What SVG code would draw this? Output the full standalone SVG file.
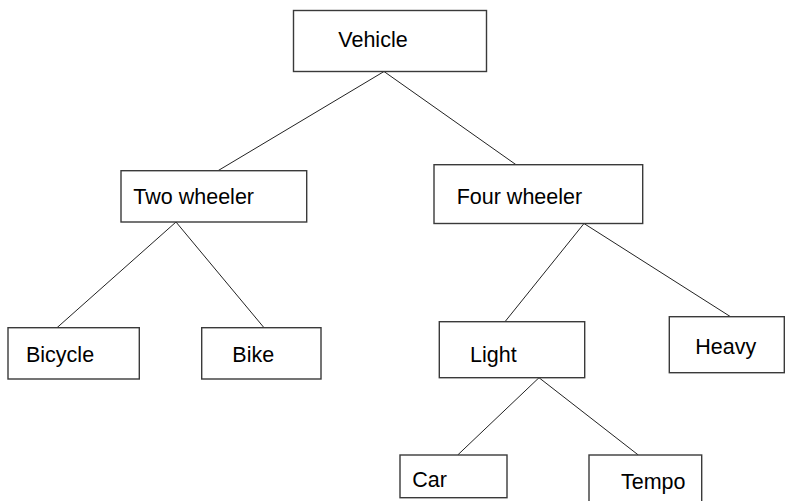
<svg xmlns="http://www.w3.org/2000/svg" width="785" height="501" viewBox="0 0 785 501">
<style>
.box{fill:#fff;stroke:#3a3a3a;stroke-width:1.4}
.lbl{font-family:"Liberation Sans",Arial,sans-serif;font-size:21.5px;fill:#000}
#connectors line{stroke:#222;stroke-width:1}
</style>
<rect width="785" height="501" fill="#fff"/>
<g id="connectors">
<line x1="384" y1="71.5" x2="218" y2="170.7"/>
<line x1="384" y1="71.5" x2="516" y2="164.7"/>
<line x1="176" y1="222" x2="57" y2="327.7"/>
<line x1="176" y1="222" x2="264" y2="327.7"/>
<line x1="584" y1="223.5" x2="505" y2="321.7"/>
<line x1="584" y1="223.5" x2="730.5" y2="316.7"/>
<line x1="539" y1="377.7" x2="457.7" y2="455"/>
<line x1="539" y1="377.7" x2="638.3" y2="455"/>
</g>
<g id="vehicle"><rect class="box" x="293.5" y="10.5" width="193" height="61"/><text class="lbl" x="338.3" y="47">Vehicle</text></g>
<g id="two-wheeler"><rect class="box" x="121" y="170.7" width="185.7" height="51.3"/><text class="lbl" x="133.3" y="204">Two wheeler</text></g>
<g id="four-wheeler"><rect class="box" x="434" y="164.7" width="208.7" height="58.8"/><text class="lbl" x="456.7" y="204">Four wheeler</text></g>
<g id="bicycle"><rect class="box" x="8" y="327.7" width="131.3" height="51.3"/><text class="lbl" x="26" y="361.7">Bicycle</text></g>
<g id="bike"><rect class="box" x="201.7" y="327.7" width="119.3" height="51.3"/><text class="lbl" x="232.3" y="361.7">Bike</text></g>
<g id="light"><rect class="box" x="439.3" y="321.7" width="145.4" height="56"/><text class="lbl" x="470" y="362.3">Light</text></g>
<g id="heavy"><rect class="box" x="669.3" y="316.7" width="115" height="56"/><text class="lbl" x="695.3" y="354">Heavy</text></g>
<g id="car"><rect class="box" x="400" y="455" width="107" height="42.7"/><text class="lbl" x="412.3" y="486.7">Car</text></g>
<g id="tempo"><rect class="box" x="589" y="455" width="112.7" height="52"/><text class="lbl" x="621" y="488.7">Tempo</text></g>
</svg>
